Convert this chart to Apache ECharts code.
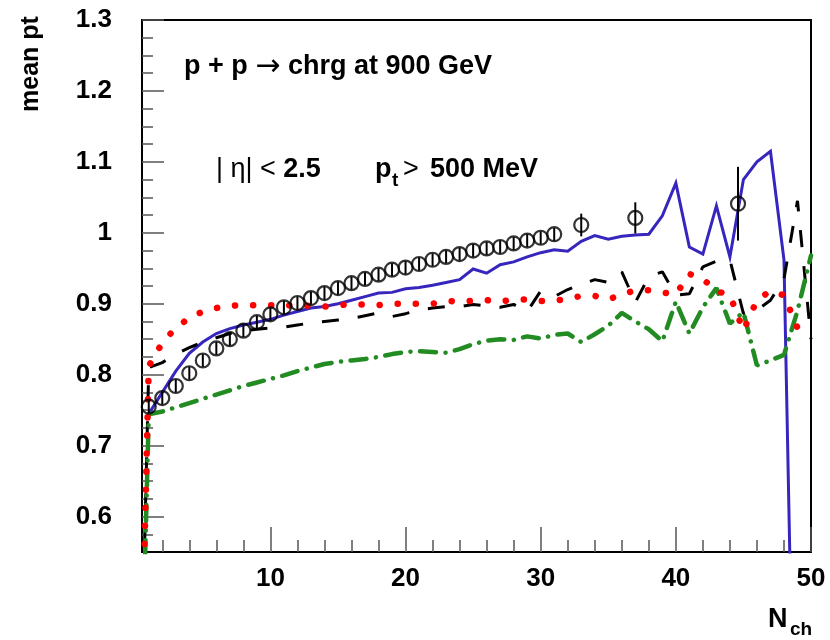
<!DOCTYPE html>
<html>
<head>
<meta charset="utf-8">
<title>mean pt vs Nch</title>
<script src="https://cdn.jsdelivr.net/npm/echarts@6/dist/echarts.min.js"></script>
<style>
  html, body { margin: 0; padding: 0; background: #fff; }
  #chart { width: 830px; height: 640px; }
</style>
</head>
<body>
<div id="chart"></div>
<script>
// Measured mean pt per charged multiplicity bin, with statistical errors
const nchMeasured = [1, 2, 3, 4, 5, 6, 7, 8, 9, 10, 11, 12, 13, 14, 15, 16, 17, 18, 19, 20,
  21, 22, 23, 24, 25, 26, 27, 28, 29, 30, 31, 33, 37, 44.6];
const meanPtMeasured = [0.755, 0.767, 0.784, 0.802, 0.820, 0.837, 0.850, 0.862, 0.874, 0.885,
  0.895, 0.901, 0.908, 0.915, 0.922, 0.929, 0.935, 0.941, 0.948, 0.951,
  0.956, 0.962, 0.966, 0.970, 0.975, 0.978, 0.980, 0.985, 0.989, 0.993,
  0.998, 1.011, 1.021, 1.041];
const meanPtMeasuredErr = [0.009, 0.009, 0.009, 0.009, 0.009, 0.009, 0.009, 0.009, 0.009, 0.009,
  0.009, 0.009, 0.009, 0.009, 0.009, 0.009, 0.009, 0.009, 0.009, 0.009,
  0.009, 0.009, 0.009, 0.009, 0.009, 0.009, 0.009, 0.009, 0.009, 0.009,
  0.009, 0.016, 0.022, 0.052];

// Model predictions, one value per Nch = 0 .. 50
const nchModel = [0, 1, 2, 3, 4, 5, 6, 7, 8, 9, 10, 11, 12, 13, 14, 15, 16, 17, 18, 19, 20,
  21, 22, 23, 24, 25, 26, 27, 28, 29, 30, 31, 32, 33, 34, 35, 36, 37, 38, 39, 40,
  41, 42, 43, 44, 45, 46, 47, 48, 49, 50];
const modelSolid = [null, 0.745, 0.775, 0.805, 0.830, 0.846, 0.858, 0.865, 0.870, 0.874, 0.878,
  0.884, 0.889, 0.894, 0.896, 0.900, 0.905, 0.910, 0.915, 0.916, 0.921,
  0.923, 0.926, 0.930, 0.934, 0.949, 0.943, 0.955, 0.959, 0.966, 0.972,
  0.976, 0.974, 0.988, 0.996, 0.991, 0.995, 0.997, 0.998, 1.024, 1.070,
  0.980, 0.970, 1.038, 0.966, 1.075, 1.100, 1.115, 0.962, 0, 0];
const modelDashed = [0, 0.810, 0.817, 0.829, 0.838, 0.846, 0.852, 0.858, 0.862, 0.864, 0.866,
  0.867, 0.870, 0.873, 0.875, 0.877, 0.879, 0.883, 0.887, 0.882, 0.886,
  0.891, 0.894, 0.896, 0.896, 0.899, 0.897, 0.895, 0.899, 0.889, 0.918,
  0.910, 0.920, 0.927, 0.934, 0.930, 0.945, 0.902, 0.938, 0.945, 0.912,
  0.914, 0.952, 0.960, 0.962, 0.886, 0.891, 0.905, 0.935, 1.045, 0.850];
const modelDotted = [0, 0.812, 0.845, 0.866, 0.880, 0.889, 0.894, 0.897, 0.898, 0.898, 0.898,
  0.898, 0.897, 0.897, 0.896, 0.898, 0.899, 0.899, 0.898, 0.900, 0.900,
  0.900, 0.900, 0.904, 0.903, 0.904, 0.905, 0.903, 0.906, 0.906, 0.904,
  0.904, 0.907, 0.911, 0.911, 0.906, 0.913, 0.919, 0.919, 0.916, 0.913,
  0.942, 0.935, 0.918, 0.912, 0.862, 0.905, 0.918, 0.912, 0.866, 0.870];
const modelDashDot = [0, 0.744, 0.748, 0.754, 0.760, 0.766, 0.772, 0.778, 0.784, 0.789, 0.794,
  0.799, 0.805, 0.810, 0.815, 0.818, 0.820, 0.822, 0.825, 0.829, 0.832,
  0.833, 0.832, 0.831, 0.836, 0.843, 0.848, 0.850, 0.849, 0.854, 0.851,
  0.856, 0.858, 0.846, 0.857, 0.869, 0.887, 0.875, 0.864, 0.847, 0.903,
  0.858, 0.895, 0.922, 0.872, 0.888, 0.813, 0.820, 0.828, 0.890, 0.968];

// Axis tick labels
const xTickLabels = [10, 20, 30, 40, 50];
const yTickLabels = [0.6, 0.7, 0.8, 0.9, 1, 1.1, 1.2, 1.3];

const X_MIN = 0.5, X_MAX = 50, Y_MIN = 0.55, Y_MAX = 1.3;

// minor ticks: every 2 units on x, every 0.025 on y
const xMinorTicks = [];
for (let v = 2; v < X_MAX; v += 2) if (v % 10 !== 0) xMinorTicks.push(v);
const yMinorTicks = [];
for (let k = 23; k <= 52; k++) if (k % 4 !== 0) yMinorTicks.push(+(k * 0.025).toFixed(3));

const FONT = '"Liberation Sans", Arial, Helvetica, sans-serif';
const SYMBOL_FONT = '"DejaVu Sans", sans-serif';
const tickColor = '#555';

const pairs = (xs, ys) => xs.map((x, i) => [x, ys[i]]);

const chart = echarts.init(document.getElementById('chart'), null, { renderer: 'canvas' });

chart.setOption({
  animation: false,
  backgroundColor: '#fff',
  grid: {
    left: 142, right: 19, top: 20, bottom: 88,
    show: true, borderColor: '#000', borderWidth: 2, backgroundColor: 'transparent'
  },
  xAxis: [
    {
      type: 'value', min: X_MIN, max: X_MAX, position: 'bottom',
      axisLine: { show: true, onZero: false, lineStyle: { color: '#000', width: 2 } },
      axisTick: { show: true, inside: true, length: 25, customValues: xTickLabels,
        lineStyle: { color: tickColor, width: 1.5 } },
      axisLabel: { show: true, customValues: xTickLabels, margin: 14,
        color: '#000', fontSize: 26, fontWeight: 'bold', fontFamily: FONT },
      splitLine: { show: false }
    },
    {
      type: 'value', min: X_MIN, max: X_MAX, position: 'bottom', offset: 0,
      axisLine: { show: false },
      axisTick: { show: true, inside: true, length: 12, customValues: xMinorTicks,
        lineStyle: { color: tickColor, width: 1.5 } },
      axisLabel: { show: false },
      splitLine: { show: false }
    }
  ],
  yAxis: [
    {
      type: 'value', min: Y_MIN, max: Y_MAX, position: 'left',
      axisLine: { show: true, onZero: false, lineStyle: { color: '#000', width: 2 } },
      axisTick: { show: true, inside: true, length: 22, customValues: yTickLabels,
        lineStyle: { color: tickColor, width: 1.5 } },
      axisLabel: { show: true, customValues: yTickLabels, margin: 30,
        color: '#000', fontSize: 26, fontWeight: 'bold', fontFamily: FONT },
      splitLine: { show: false }
    },
    {
      type: 'value', min: Y_MIN, max: Y_MAX, position: 'left', offset: 0,
      axisLine: { show: false },
      axisTick: { show: true, inside: true, length: 11, customValues: yMinorTicks,
        lineStyle: { color: tickColor, width: 1.5 } },
      axisLabel: { show: false },
      splitLine: { show: false }
    }
  ],
  series: [
    {
      name: 'solid', type: 'line', data: pairs(nchModel, modelSolid),
      showSymbol: false, symbol: 'none', clip: true, connectNulls: false,
      lineStyle: { color: '#3626bd', width: 3, join: 'miter' }, z: 2
    },
    {
      name: 'dashed', type: 'line', data: pairs(nchModel, modelDashed),
      showSymbol: false, symbol: 'none', clip: true,
      lineStyle: { color: '#000', width: 3, type: [17, 19], cap: 'butt' }, z: 3
    },
    {
      name: 'dashdot', type: 'line', data: pairs(nchModel, modelDashDot),
      showSymbol: false, symbol: 'none', clip: true,
      lineStyle: { color: '#228b22', width: 4.5, type: [16, 9.5, 0.1, 9.5], cap: 'round' }, z: 4
    },
    {
      name: 'dotted', type: 'line', data: pairs(nchModel, modelDotted),
      showSymbol: false, symbol: 'none', clip: true,
      lineStyle: { color: '#ff0000', width: 6.5, type: [0.1, 18], cap: 'round' }, z: 5
    },
    {
      name: 'errors', type: 'custom',
      data: nchMeasured.map((x, i) => [x, meanPtMeasured[i], meanPtMeasuredErr[i]]),
      encode: { x: 0, y: 1 },
      renderItem: (params, api) => {
        const x = api.value(0), y = api.value(1), e = api.value(2);
        const lo = api.coord([x, y - e]);
        const hi = api.coord([x, y + e]);
        return {
          type: 'line',
          shape: { x1: lo[0], y1: lo[1], x2: hi[0], y2: hi[1] },
          style: { stroke: '#000', lineWidth: 2 }
        };
      },
      z: 6
    },
    {
      name: 'data', type: 'scatter', data: pairs(nchMeasured, meanPtMeasured),
      symbol: 'circle', symbolSize: 14,
      itemStyle: { color: 'rgba(0,0,0,0)', borderColor: '#000', borderWidth: 2.2 },
      z: 7
    }
  ],
  graphic: [
    {
      type: 'text', x: 31, y: 64, rotation: Math.PI / 2,
      style: { text: 'mean pt', fill: '#000', font: 'bold 25px ' + FONT,
        align: 'center', verticalAlign: 'middle' }
    },
    {
      type: 'text', x: 184, y: 67,
      style: {
        text: '{b|p + p }{r|\u2192}{b| chrg at 900 GeV}',
        verticalAlign: 'middle',
        rich: {
          b: { fontFamily: FONT, fontSize: 27, fontWeight: 'bold', fill: '#000' },
          r: { fontFamily: SYMBOL_FONT, fontSize: 30, fontWeight: 'normal', fill: '#000' }
        }
      }
    },
    {
      type: 'text', x: 216, y: 170,
      style: {
        text: '{r|| \u03b7| < }{b|2.5}',
        verticalAlign: 'middle',
        rich: {
          b: { fontFamily: FONT, fontSize: 27, fontWeight: 'bold', fill: '#000' },
          r: { fontFamily: FONT, fontSize: 27, fontWeight: 'normal', fill: '#000' }
        }
      }
    },
    {
      type: 'text', x: 375, y: 170,
      style: { text: 'p', fill: '#000', font: 'bold 27px ' + FONT, verticalAlign: 'middle' }
    },
    {
      type: 'text', x: 392, y: 181,
      style: { text: 't', fill: '#000', font: 'bold 19px ' + FONT, verticalAlign: 'middle' }
    },
    {
      type: 'text', x: 403, y: 170,
      style: { text: '>', fill: '#000', font: '27px ' + FONT, verticalAlign: 'middle' }
    },
    {
      type: 'text', x: 430, y: 170,
      style: { text: '500 MeV', fill: '#000', font: 'bold 27px ' + FONT, verticalAlign: 'middle' }
    },
    {
      type: 'text', x: 768, y: 620,
      style: { text: 'N', fill: '#000', font: 'bold 27px ' + FONT, verticalAlign: 'middle' }
    },
    {
      type: 'text', x: 790, y: 630,
      style: { text: 'ch', fill: '#000', font: 'bold 19px ' + FONT, verticalAlign: 'middle' }
    }
  ]
});
</script>
</body>
</html>
